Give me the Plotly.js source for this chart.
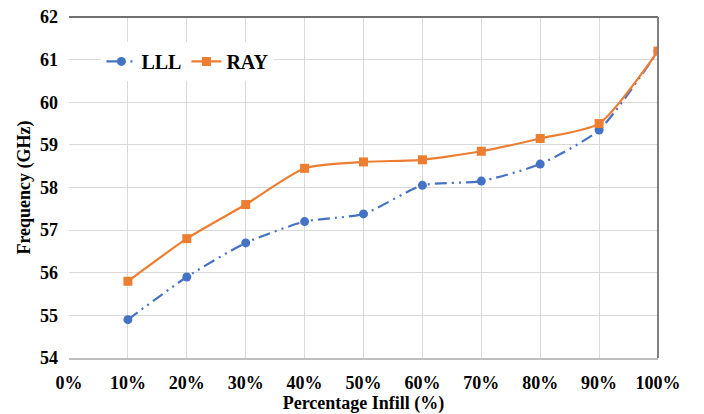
<!DOCTYPE html>
<html><head><meta charset="utf-8">
<script src="https://cdn.plot.ly/plotly-3.0.1.min.js"></script>
<style>html,body{margin:0;padding:0;background:#fff}#c{width:704px;height:414px}</style>
</head><body><div id="c"></div>
<script>
const infill = [0.1,0.2,0.3,0.4,0.5,0.6,0.7,0.8,0.9,1.0];
const lll = [54.9,55.9,56.7,57.2,57.38,58.05,58.15,58.55,59.35,61.2];
const ray = [55.8,56.8,57.6,58.45,58.6,58.65,58.85,59.15,59.5,61.2];
const seriesNames = ['LLL','RAY'];
const xTitle = 'Percentage Infill (%)';
const yTitle = 'Frequency (GHz)';

const font = '"Times New Roman", "Liberation Serif", "DejaVu Serif", serif';
const traces = [
  {x:infill, y:lll, name:seriesNames[0], type:'scatter', mode:'lines+markers',
   line:{color:'#4472C4', width:2.2, shape:'spline', smoothing:0.6, dash:'12px,5px,2px,5px,2px,5px'},
   marker:{symbol:'circle', size:9, color:'#4472C4'}},
  {x:infill, y:ray, name:seriesNames[1], type:'scatter', mode:'lines+markers',
   line:{color:'#ED7D31', width:2.2, shape:'spline', smoothing:0.6},
   marker:{symbol:'square', size:9, color:'#ED7D31'}}
];
const layout = {
  width:704, height:414,
  margin:{l:69, r:46, t:17, b:56},
  paper_bgcolor:'#fff', plot_bgcolor:'#fff',
  font:{family:font, color:'#000', weight:'bold'},
  xaxis:{range:[0,1], dtick:0.1, tick0:0, tickformat:'.0%', showgrid:true, gridcolor:'#d9d9d9',
    showline:true, linecolor:'#bfbfbf', linewidth:1.5, zeroline:false, ticks:'', ticklabelstandoff:8,
    tickfont:{size:18, family:font, weight:'bold', color:'#000'},
    title:{text:xTitle, font:{size:18, family:font, weight:'bold', color:'#000'}, standoff:0}},
  yaxis:{range:[54,62], dtick:1, showgrid:true, gridcolor:'#d9d9d9', zeroline:false,
    showline:false, ticks:'', ticklabelstandoff:10, tickfont:{size:18, family:font, weight:'bold', color:'#000'},
    title:{text:yTitle, font:{size:18, family:font, weight:'bold', color:'#000'}, standoff:4}},
  legend:{x:0.055, y:0.927, xanchor:'left', yanchor:'top', orientation:'h',
    bgcolor:'rgba(255,255,255,1)', font:{size:20, family:font, weight:'bold', color:'#000'}, itemwidth:30},
  showlegend:true,
  shapes:[
    {type:'line', xref:'paper', yref:'paper', x0:0, x1:1, y0:1, y1:1, line:{color:'#404040', width:1.5}},
    {type:'line', xref:'paper', yref:'paper', x0:1, x1:1, y0:0, y1:1, line:{color:'#808080', width:2}}
  ]
};
Plotly.newPlot('c', traces, layout, {displayModeBar:false});
</script></body></html>
